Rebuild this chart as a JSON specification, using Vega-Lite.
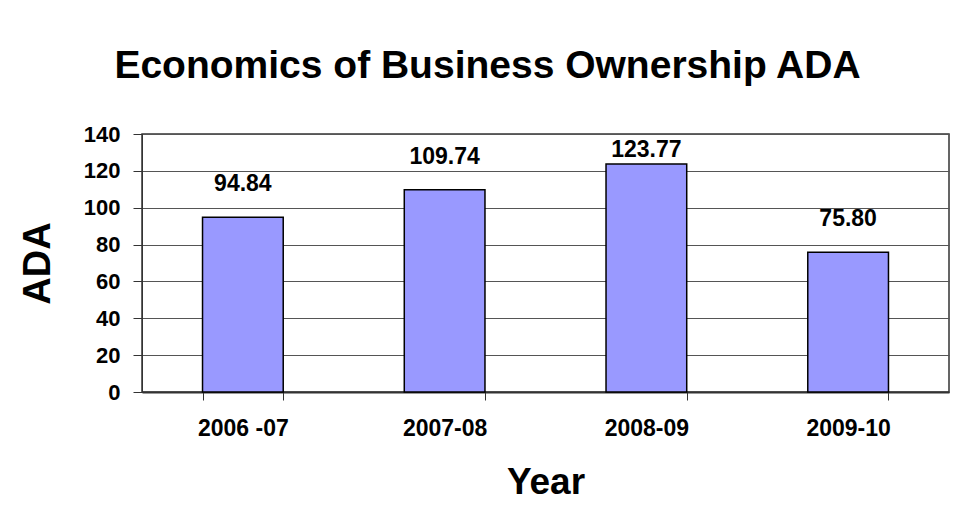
{
  "$schema": "https://vega.github.io/schema/vega-lite/v6.json",
  "autosize": {"type": "none"},
  "width": 807,
  "height": 258,
  "padding": {"left": 142, "top": 134, "right": 10, "bottom": 128},
  "background": "white",
  "title": {
    "text": "Economics of Business Ownership ADA",
    "font": "Liberation Sans",
    "fontSize": 39,
    "fontWeight": "bold",
    "color": "black",
    "anchor": "middle",
    "baseline": "alphabetic",
    "dx": -58,
    "offset": 6
  },
  "data": {
    "values": [
      {"Year": "2006 -07", "ADA": 94.84, "label": "94.84"},
      {"Year": "2007-08", "ADA": 109.74, "label": "109.74"},
      {"Year": "2008-09", "ADA": 123.77, "label": "123.77"},
      {"Year": "2009-10", "ADA": 75.80, "label": "75.80"}
    ]
  },
  "encoding": {
    "x": {
      "field": "Year",
      "type": "nominal",
      "sort": null,
      "scale": {"paddingInner": 0.6, "paddingOuter": 0.3},
      "axis": {
        "title": "Year",
        "labelAngle": 0,
        "labelFont": "Liberation Sans",
        "labelFontSize": 23,
        "labelFontWeight": "bold",
        "labelColor": "black",
        "labelPadding": 17,
        "titleFont": "Liberation Sans",
        "titleFontSize": 37,
        "titleFontWeight": "bold",
        "titleColor": "black",
        "titlePadding": 24,
        "domainColor": "#333333",
        "domainWidth": 2,
        "tickBand": "extent",
        "tickColor": "#333333",
        "tickSize": 8,
        "grid": false
      }
    },
    "y": {
      "field": "ADA",
      "type": "quantitative",
      "scale": {"domain": [0, 140], "nice": false},
      "axis": {
        "title": "ADA",
        "values": [0, 20, 40, 60, 80, 100, 120, 140],
        "labelFont": "Liberation Sans",
        "labelFontSize": 22,
        "labelFontWeight": "bold",
        "labelColor": "black",
        "labelPadding": 13,
        "titleFont": "Liberation Sans",
        "titleFontSize": 38,
        "titleFontWeight": "bold",
        "titleColor": "black",
        "titlePadding": 26,
        "domainColor": "#333333",
        "domainWidth": 1,
        "tickColor": "#333333",
        "tickSize": 9,
        "grid": true,
        "gridColor": "#555555",
        "gridWidth": 1
      }
    }
  },
  "layer": [
    {
      "mark": {"type": "bar", "color": "#9999FF", "stroke": "black", "strokeWidth": 1.5}
    },
    {
      "transform": [{"filter": "datum.ADA <= 120"}],
      "mark": {
        "type": "text",
        "baseline": "alphabetic",
        "dy": -26,
        "font": "Liberation Sans",
        "fontSize": 23,
        "fontWeight": "bold",
        "color": "black"
      },
      "encoding": {"text": {"field": "label"}}
    },
    {
      "transform": [{"filter": "datum.ADA > 120"}],
      "mark": {
        "type": "text",
        "baseline": "alphabetic",
        "dy": -7,
        "font": "Liberation Sans",
        "fontSize": 23,
        "fontWeight": "bold",
        "color": "black"
      },
      "encoding": {"text": {"field": "label"}}
    }
  ],
  "config": {
    "view": {"stroke": "#333333", "strokeWidth": 1.5}
  }
}
